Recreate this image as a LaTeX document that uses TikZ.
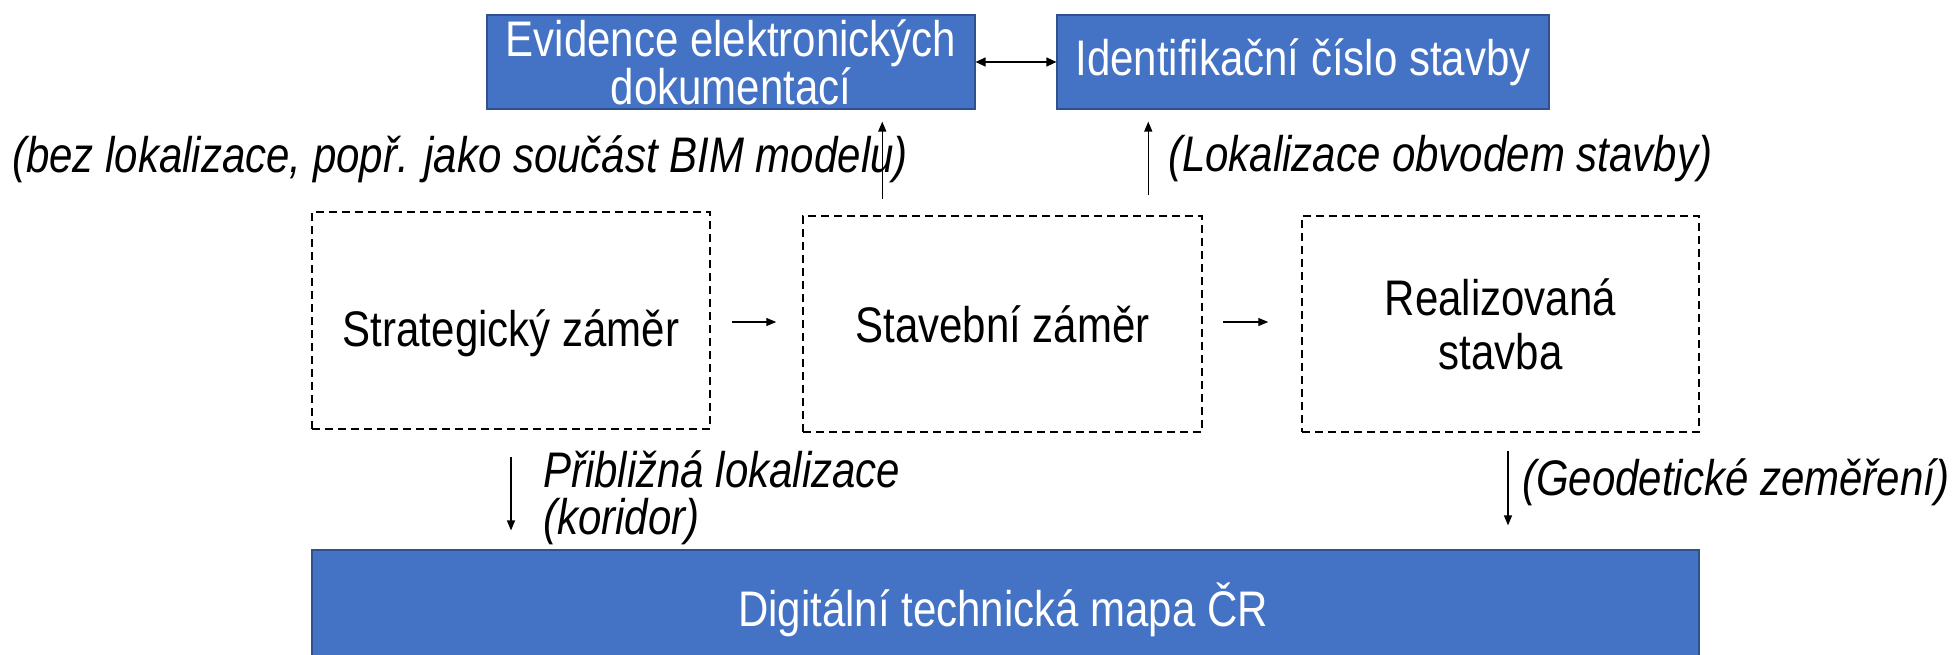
\documentclass[tikz,border=0pt]{standalone}
\usepackage{fontspec}
\setmainfont{Liberation Sans}[FakeStretch=0.84]
\usetikzlibrary{arrows.meta}
\definecolor{boxblue}{HTML}{4472C4}
\definecolor{boxedge}{HTML}{2F528F}
\begin{document}
\begin{tikzpicture}[x=1pt,y=-1pt,
 bluebox/.style={draw=boxedge, line width=1.2pt, fill=boxblue, text=white, inner sep=0pt, align=center, font=\fontsize{50}{47}\selectfont},
 dashbox/.style={draw, line width=1.5pt, dash pattern=on 8pt off 5pt, inner sep=0pt, align=center, font=\fontsize{50}{54}\selectfont},
 arr/.style={-{Triangle[length=10pt,width=8pt]}, line width=1.3pt},
 dbl/.style={{Triangle[length=10pt,width=9pt]}-{Triangle[length=10pt,width=9pt]}, line width=1.3pt},
 lbl/.style={font=\fontsize{50}{47}\selectfont\itshape, inner sep=0pt, anchor=west, align=left}]
\useasboundingbox (0,0) rectangle (1959,654);
\fill[white] (0,0) rectangle (1959,654);

\node[bluebox, minimum width=488pt, minimum height=94pt] (ev) at (731,62) {Evidence elektronických\\dokumentací};
\node[bluebox, minimum width=492pt, minimum height=94pt] (id) at (1303,62) {Identifikační číslo stavby};

\node[dashbox, minimum width=398pt, minimum height=217pt, text height=52pt, text depth=0pt] (s1) at (511,320.5) {Strategický záměr};
\node[dashbox, minimum width=399pt, minimum height=216pt] (s2) at (1002.5,324) {Stavební záměr};
\node[dashbox, minimum width=397pt, minimum height=216pt] (s3) at (1500.5,324) {Realizovaná\\stavba};

\node[bluebox, minimum width=1387pt, minimum height=120pt] (dtm) at (1005.5,610) {};
\node[text=white, font=\fontsize{50}{47}\selectfont, inner sep=0pt] (dtmt) at (1003,610) {Digitální technická mapa ČR};

\node[lbl] (l1) at (12,159) {(bez lokalizace, popř. jako součást BIM modelu)};
\node[lbl] (l2) at (1168,159) {(Lokalizace obvodem stavby)};
\node[lbl] (l3) at (543,498) {Přibližná lokalizace\\(koridor)};
\node[lbl] (l4) at (1522,482) {(Geodetické zeměření)};

\draw[dbl] (ev.east) -- (id.west);

\coordinate (a1) at ([xshift=80pt,yshift=16pt]s2.north west);
\path (ev.south -| a1) coordinate (e1);
\draw[arr] (a1) -- ([yshift=-12pt]e1);

\coordinate (a2) at ([xshift=346pt,yshift=20pt]s2.north west);
\path (id.south -| a2) coordinate (e2);
\draw[arr] (a2) -- ([yshift=-12pt]e2);

\coordinate (h1) at ([xshift=21pt,yshift=-1.5pt]s1.east);
\path (h1 -| s2.west) coordinate (h1e);
\draw[arr] (h1) -- ([xshift=-26pt]h1e);

\coordinate (h2) at ([xshift=20pt,yshift=2pt]s2.east);
\path (h2 -| s3.west) coordinate (h2e);
\draw[arr] (h2) -- ([xshift=-33pt]h2e);

\coordinate (b1) at ([yshift=-27pt]s1.south);
\path (dtm.north -| b1) coordinate (f1);
\draw[arr] (b1) -- ([yshift=19pt]f1);

\coordinate (b2) at ([xshift=7.5pt,yshift=-18pt]s3.south);
\path (dtm.north -| b2) coordinate (f2);
\draw[arr] (b2) -- ([yshift=24pt]f2);
\end{tikzpicture}
\end{document}
